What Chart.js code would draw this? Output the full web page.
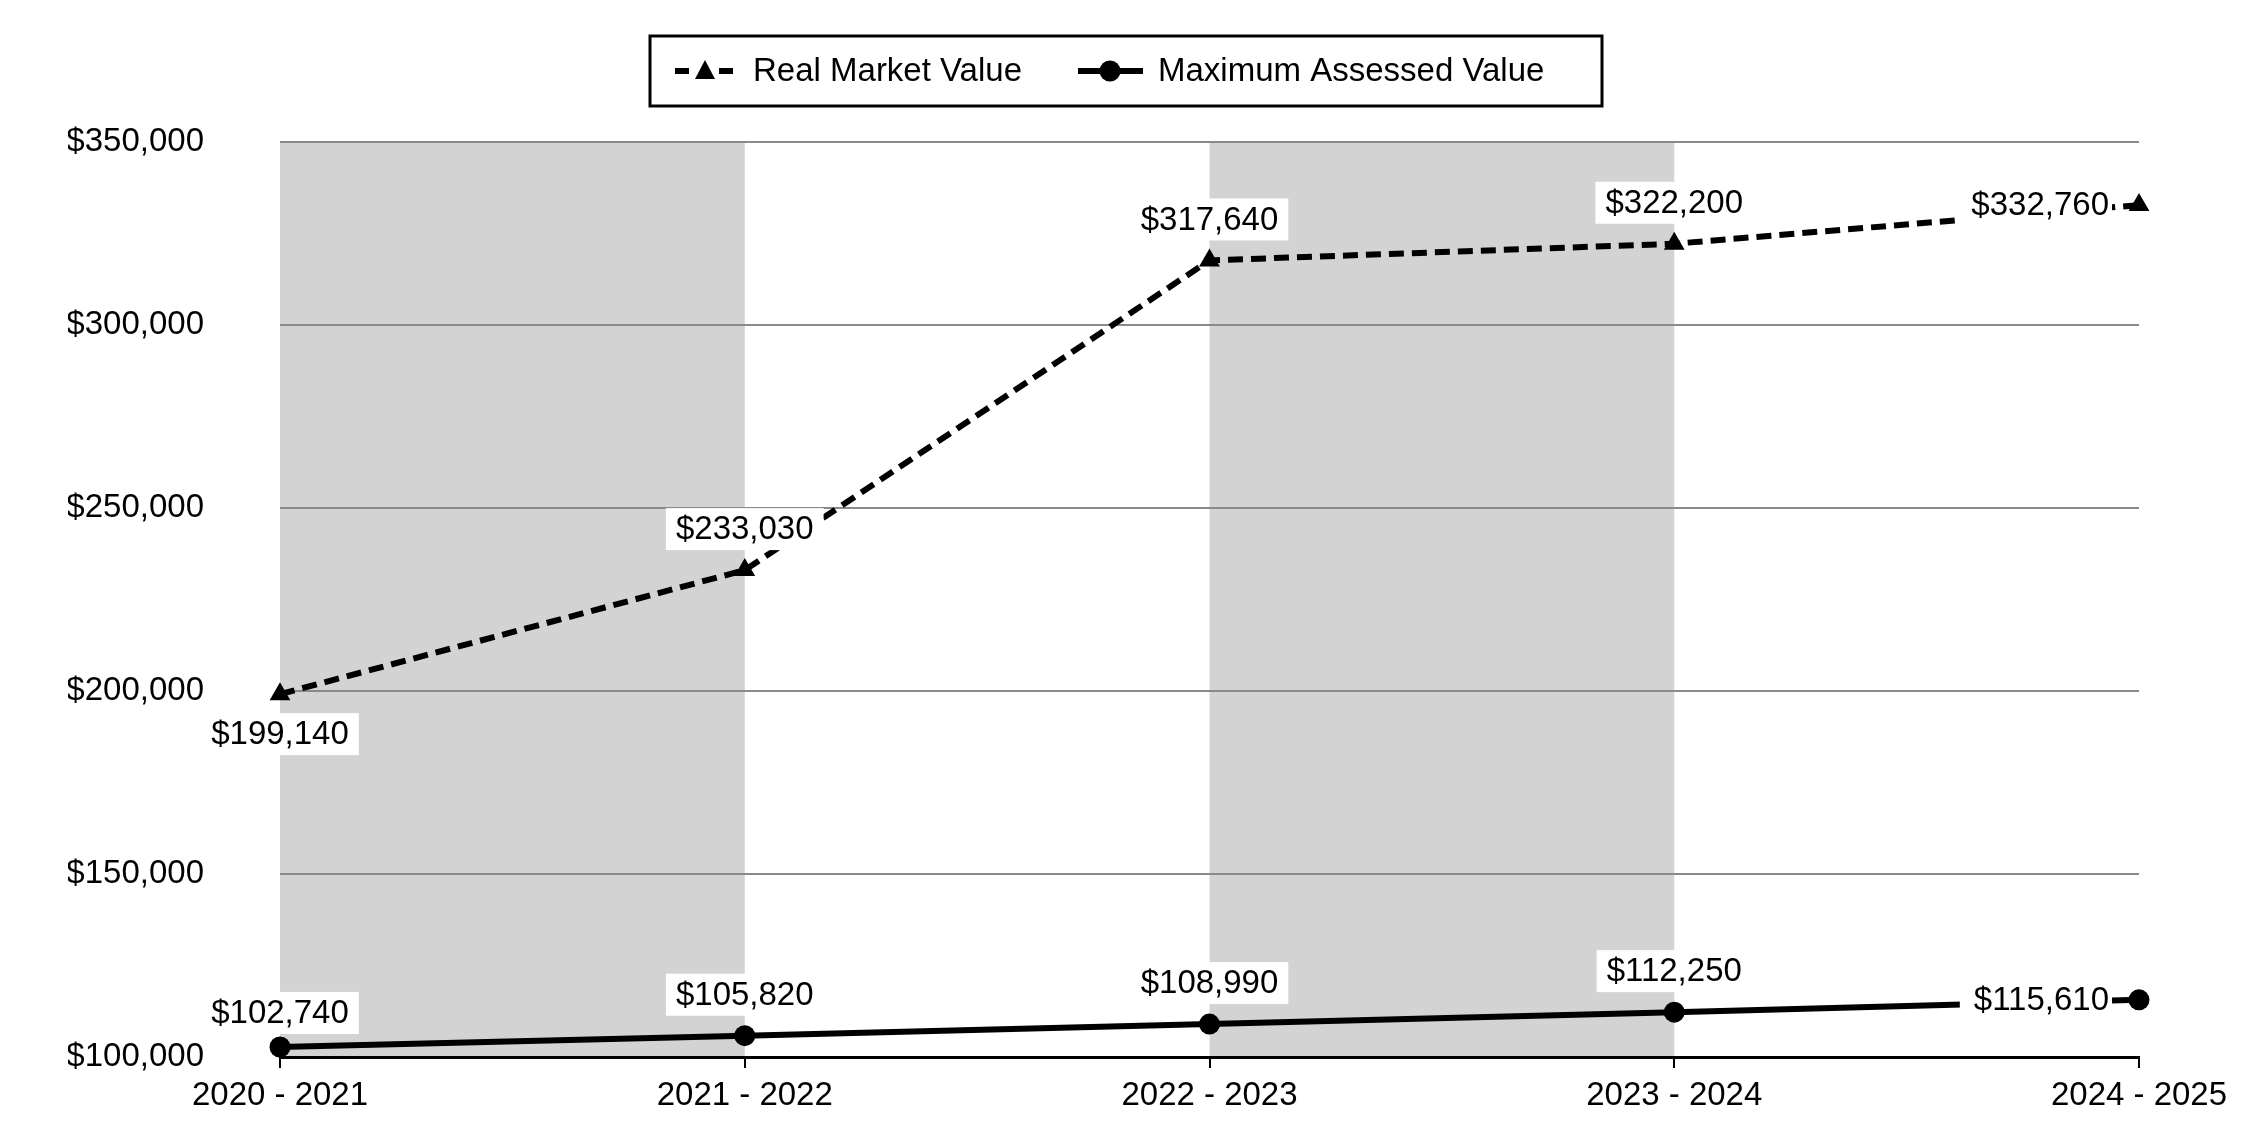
<!DOCTYPE html>
<html>
<head>
<meta charset="utf-8">
<script src="https://cdn.jsdelivr.net/npm/chart.js@4.4.1/dist/chart.umd.min.js"></script>
<style>
  html, body { margin: 0; padding: 0; background: #fff; }
  #wrap { width: 2250px; height: 1140px; }
</style>
</head>
<body>
<div id="wrap"><canvas id="chart"></canvas></div>
<script>
const years = ['2020 - 2021', '2021 - 2022', '2022 - 2023', '2023 - 2024', '2024 - 2025'];
const realMarket = [199140, 233030, 317640, 322200, 332760];
const maxAssessed = [102740, 105820, 108990, 112250, 115610];
const yTicks = [100000, 150000, 200000, 250000, 300000, 350000];
const seriesNames = ['Real Market Value', 'Maximum Assessed Value'];

const FONT = '"Liberation Sans", Arial, sans-serif';
const money = v => '$' + v.toLocaleString('en-US');

// grey bands between every other pair of categories
const bands = {
    id: 'bands',
    beforeDraw(chart) {
        const { ctx, chartArea, scales } = chart;
        ctx.save();
        ctx.fillStyle = '#d3d3d3';
        for (let i = 0; i + 1 < years.length; i += 2) {
            const x1 = scales.x.getPixelForValue(i);
            const x2 = scales.x.getPixelForValue(i + 1);
            ctx.fillRect(x1, chartArea.top, x2 - x1, chartArea.bottom - chartArea.top);
        }
        ctx.restore();
    }
};

// value labels on white boxes
const valueLabels = {
    id: 'valueLabels',
    afterDatasetsDraw(chart) {
        const ctx = chart.ctx;
        ctx.save();
        ctx.font = '33px ' + FONT;
        ctx.textBaseline = 'middle';
        ctx.textAlign = 'center';
        chart.data.datasets.forEach((ds, di) => {
            const meta = chart.getDatasetMeta(di);
            meta.data.forEach((pt, i) => {
                const txt = money(ds.data[i]);
                const w = ctx.measureText(txt).width;
                let cx, cy, padL = 10, padR = 10;
                if (i === ds.data.length - 1) {
                    cx = pt.x - 30 - w / 2; cy = pt.y; padL = 14; padR = 3;
                } else if (di === 0 && i === 0) {
                    cx = pt.x; cy = pt.y + 40;
                } else if (i === 0) {
                    cx = pt.x; cy = pt.y - 34;
                } else {
                    cx = pt.x; cy = pt.y - 41;
                }
                ctx.fillStyle = '#fff';
                ctx.fillRect(cx - w / 2 - padL, cy - 21, w + padL + padR, 42);
                ctx.fillStyle = '#000';
                ctx.fillText(txt, cx, cy + 1);
            });
        });
        ctx.restore();
    }
};

// boxed legend at the top
const boxLegend = {
    id: 'boxLegend',
    afterDraw(chart) {
        const ctx = chart.ctx;
        const cx = chart.width / 2 + 1;
        const left = cx - 476, right = cx + 476, top = 36, bottom = 106;
        const midY = (top + bottom) / 2;
        ctx.save();
        ctx.fillStyle = '#fff';
        ctx.fillRect(left, top, right - left, bottom - top);
        ctx.strokeStyle = '#000';
        ctx.lineWidth = 3;
        ctx.strokeRect(left, top, right - left, bottom - top);
        ctx.font = '33px ' + FONT;
        ctx.textBaseline = 'middle';
        ctx.textAlign = 'left';
        ctx.fillStyle = '#000';

        // item 1: dashed line with triangle
        let x = left + 25;
        ctx.lineWidth = 6;
        ctx.setLineDash([14, 8]);
        ctx.beginPath(); ctx.moveTo(x, midY); ctx.lineTo(x + 60, midY); ctx.stroke();
        ctx.setLineDash([]);
        const tx = x + 30;
        ctx.fillStyle = '#fff';
        ctx.fillRect(tx - 10, midY - 4, 20, 8);
        ctx.fillStyle = '#000';
        ctx.beginPath();
        ctx.moveTo(tx, midY - 11); ctx.lineTo(tx + 10, midY + 8); ctx.lineTo(tx - 10, midY + 8);
        ctx.closePath(); ctx.fill();
        ctx.fillText(seriesNames[0], x + 78, midY + 1);

        // item 2: solid line with circle
        x = left + 428;
        ctx.lineWidth = 6;
        ctx.beginPath(); ctx.moveTo(x, midY); ctx.lineTo(x + 65, midY); ctx.stroke();
        ctx.beginPath(); ctx.arc(x + 32, midY, 10.5, 0, Math.PI * 2); ctx.fill();
        ctx.fillText(seriesNames[1], x + 80, midY + 1);
        ctx.restore();
    }
};

document.addEventListener('DOMContentLoaded', () => {
    const ctx = document.getElementById('chart').getContext('2d');
    new Chart(ctx, {
        type: 'line',
        data: {
            labels: years,
            datasets: [{
                label: seriesNames[0],
                data: realMarket,
                borderColor: '#000',
                backgroundColor: '#000',
                borderWidth: 6,
                borderDash: [15, 8],
                pointStyle: 'triangle',
                pointRadius: 12,
                pointBorderWidth: 0,
                pointBackgroundColor: '#000',
                tension: 0,
                fill: false,
                clip: false
            }, {
                label: seriesNames[1],
                data: maxAssessed,
                borderColor: '#000',
                backgroundColor: '#000',
                borderWidth: 6,
                pointStyle: 'circle',
                pointRadius: 10.5,
                pointBorderWidth: 0,
                pointBackgroundColor: '#000',
                tension: 0,
                fill: false,
                clip: false
            }]
        },
        options: {
            responsive: true,
            maintainAspectRatio: false,
            devicePixelRatio: 1,
            animation: false,
            layout: { padding: { top: 142, left: 68, right: 111, bottom: 13 } },
            plugins: {
                legend: { display: false },
                tooltip: { enabled: false }
            },
            scales: {
                x: {
                    offset: false,
                    afterFit: s => { s.height = 70; s.paddingLeft = 0; s.paddingRight = 0; },
                    grid: { drawOnChartArea: false, drawTicks: true, tickLength: 11, tickColor: '#000', lineWidth: 2 },
                    border: { color: '#000', width: 3, z: 1 },
                    ticks: { color: '#000', padding: 8, font: { family: FONT, size: 33 }, maxRotation: 0, autoSkip: false }
                },
                y: {
                    min: yTicks[0],
                    max: yTicks[yTicks.length - 1],
                    afterBuildTicks: s => { s.ticks = yTicks.map(v => ({ value: v })); },
                    afterFit: s => { s.width = 212; s.paddingTop = 0; s.paddingBottom = 0; },
                    grid: { color: '#8a8a8a', lineWidth: 2, drawTicks: false },
                    border: { display: false },
                    ticks: { color: '#000', padding: 76, font: { family: FONT, size: 33 }, callback: v => money(v) }
                }
            }
        },
        plugins: [bands, valueLabels, boxLegend]
    });
});
</script>
</body>
</html>
